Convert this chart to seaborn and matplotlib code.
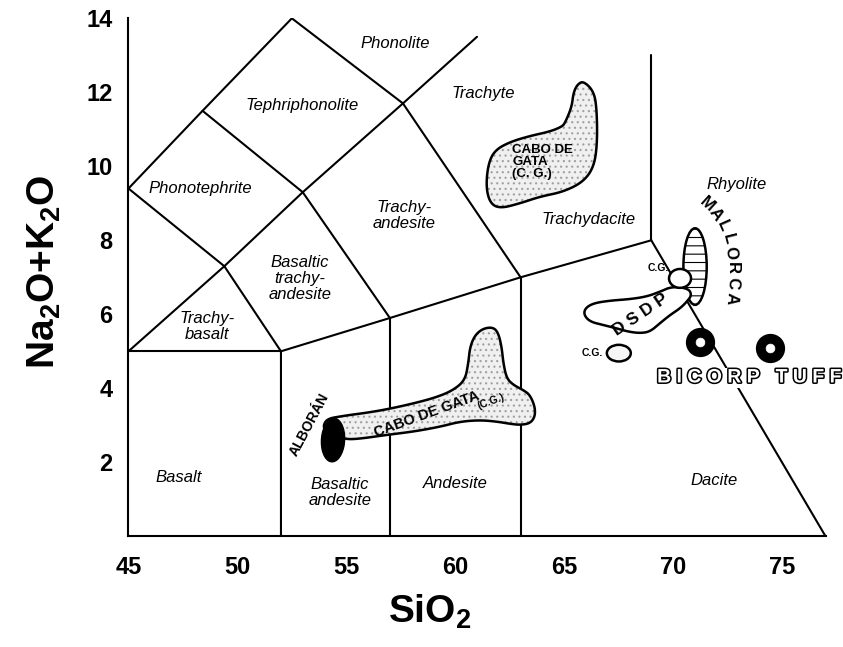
import numpy as np
import pandas as pd
import matplotlib
matplotlib.use("Agg")
import matplotlib.pyplot as plt
import matplotlib.patheffects as pe
from matplotlib.patches import Polygon, Ellipse
import seaborn as sns

# TAS field boundaries, (SiO2, Na2O+K2O)
base_line = [(52, 0), (52, 5), (57, 5.9), (63, 7), (69, 8)]
basalt_top = [(45, 5), (52, 5)]
andesite_left = [(57, 0), (57, 5.9)]
dacite_left = [(63, 0), (63, 7)]
rhyolite_dacite = [(69, 8), (77, 0)]
rhyolite_trachyte = [(69, 8), (69, 13)]
trachybasalt_top = [(45, 5), (49.4, 7.3), (52, 5)]
alkali_line = [(49.4, 7.3), (53, 9.3), (57.6, 11.7), (61, 13.5)]
bta_right = [(53, 9.3), (57, 5.9)]
ta_right = [(57.6, 11.7), (63, 7)]
phonotephrite_low = [(45, 9.4), (49.4, 7.3)]
upper_line = [(45, 9.4), (48.4, 11.5), (52.5, 14), (57.6, 11.7)]
tephri_low = [(48.4, 11.5), (53, 9.3)]

field_names = ["Phonolite", "Tephriphonolite", "Trachyte", "Phonotephrite",
               "Trachy-\nandesite", "Trachydacite", "Rhyolite",
               "Basaltic\ntrachy-\nandesite", "Trachy-\nbasalt", "Basalt",
               "Basaltic\nandesite", "Andesite", "Dacite"]

# sample fields (outlines)
cabo_upper = [(65.88, 12.31), (66.37, 12.02), (66.50, 11.52), (66.52, 10.62),
              (66.37, 9.99), (65.88, 9.58), (64.96, 9.31), (63.89, 9.18),
              (62.98, 9.0), (62.06, 8.86), (61.60, 9.0), (61.41, 9.45),
              (61.52, 10.08), (61.83, 10.44), (62.52, 10.66), (63.43, 10.82),
              (64.35, 10.94), (64.89, 11.07), (65.04, 11.17), (65.35, 11.61),
              (65.42, 11.97), (65.59, 12.20)]
cabo_lower = [(53.94, 2.92), (54.02, 3.10), (54.25, 3.19), (54.63, 3.23),
              (55.17, 3.28), (55.94, 3.34), (56.85, 3.43), (58.08, 3.59),
              (59.15, 3.76), (59.91, 3.95), (60.45, 4.22), (60.60, 4.68),
              (60.68, 5.12), (60.91, 5.44), (61.29, 5.62), (61.75, 5.65),
              (61.98, 5.49), (62.13, 5.12), (62.21, 4.68), (62.36, 4.27),
              (62.67, 4.09), (63.13, 3.95), (63.43, 3.82), (63.66, 3.50),
              (63.66, 3.23), (63.43, 3.05), (62.97, 3.01), (62.52, 3.04),
              (61.91, 3.10), (61.14, 3.14), (60.22, 3.10), (59.30, 2.96),
              (58.08, 2.83), (56.85, 2.74), (55.78, 2.65), (55.17, 2.62),
              (54.86, 2.65), (54.3, 2.7)]
dsdp = [(69.94, 6.75), (69.40, 6.61), (68.79, 6.48), (68.03, 6.41),
        (67.11, 6.37), (66.34, 6.30), (65.96, 6.16), (65.91, 5.98),
        (66.19, 5.80), (66.80, 5.71), (67.41, 5.62), (67.95, 5.53),
        (68.48, 5.49), (68.94, 5.53), (69.40, 5.76), (69.86, 5.98),
        (70.32, 6.16), (70.63, 6.34), (70.86, 6.52), (70.70, 6.70)]
alboran = (54.39, 2.60)
mallorca = (71.01, 7.29)
cg_upper = (70.32, 6.97)
cg_lower = (67.51, 4.95)
bicorp_sio2 = [71.24, 74.43]
bicorp_alk = [5.25, 5.09]

xticks = [45, 50, 55, 60, 65, 70, 75]
yticks = [2, 4, 6, 8, 10, 12, 14]


def smooth(pts, n=4):
    p = np.asarray(pts, dtype=float)
    for _ in range(n):
        nxt = np.roll(p, -1, axis=0)
        q = np.empty((2 * len(p), 2))
        q[0::2] = 0.75 * p + 0.25 * nxt
        q[1::2] = 0.25 * p + 0.75 * nxt
        p = q
    return p


def stipple_blob(ax, pts, z):
    xy = smooth(pts)
    ax.add_patch(Polygon(xy, closed=True, facecolor="#f0f0f0", edgecolor="#a0a0a0",
                         hatch="...", lw=0, zorder=z))
    ax.add_patch(Polygon(xy, closed=True, fill=False, edgecolor="black", lw=1.8, zorder=z + 0.1))


sns.set_theme(style="white")
plt.rcParams["font.family"] = ["Liberation Sans", "DejaVu Sans"]
plt.rcParams["text.color"] = "black"
plt.rcParams["axes.labelcolor"] = "black"
plt.rcParams["mathtext.fontset"] = "custom"
plt.rcParams["mathtext.rm"] = "Liberation Sans"
plt.rcParams["mathtext.bf"] = "Liberation Sans:bold"
plt.rcParams["hatch.linewidth"] = 0.8

fig = plt.figure(figsize=(8.43, 6.47), dpi=100)
ax = fig.add_axes([0.1524, 0.1711, 0.8269, 0.8006])

segments = [base_line, basalt_top, andesite_left, dacite_left, rhyolite_dacite,
            rhyolite_trachyte, trachybasalt_top, alkali_line, bta_right, ta_right,
            phonotephrite_low, upper_line, tephri_low]
rows = [(i, x, y) for i, seg in enumerate(segments) for x, y in seg]
df = pd.DataFrame(rows, columns=["seg", "sio2", "alk"])
sns.lineplot(data=df, x="sio2", y="alk", units="seg", estimator=None, sort=False,
             color="black", lw=1.5, legend=False, ax=ax, zorder=1)

# field names
label_pos = [(57.24, 13.32), (52.95, 11.63), (61.29, 11.97), (48.28, 9.41),
             (57.65, 8.68), (66.1, 8.55), (72.94, 9.52), (52.87, 6.97),
             (48.6, 5.67), (47.3, 1.6), (54.71, 1.18), (59.99, 1.43), (71.9, 1.5)]
for name, (x, y) in zip(field_names, label_pos):
    ax.text(x, y, name, style="italic", fontsize=12, ha="center", va="center",
            color="black", linespacing=1.1, zorder=2)

# Cabo de Gata fields
stipple_blob(ax, cabo_upper, 3)
stipple_blob(ax, cabo_lower, 3)
ax.text(62.62, 10.12, "CABO DE\nGATA\n(C. G.)", fontsize=9.5, fontweight="bold",
        ha="left", va="center", linespacing=1.0, zorder=6)
ax.text(58.7, 3.3, "CABO DE GATA", fontsize=10.5, fontweight="bold", rotation=20,
        ha="center", va="center", rotation_mode="anchor", zorder=6)
ax.text(61.63, 3.64, "(C.G.)", fontsize=7.5, fontweight="bold", rotation=20,
        ha="center", va="center", rotation_mode="anchor", zorder=6)

# Alboran
ax.add_patch(Ellipse(alboran, 1.05, 1.19, angle=-20, facecolor="black",
                     edgecolor="black", zorder=4))
ax.text(53.29, 3.03, "ALBORÁN", fontsize=10, fontweight="bold", rotation=62,
        ha="center", va="center", rotation_mode="anchor", zorder=6)

# Mallorca, DSDP and C.G.
ax.add_patch(Ellipse(mallorca, 1.07, 2.07, facecolor="white", edgecolor="black",
                     hatch="--", lw=1.8, zorder=3))
dsdp_xy = smooth(dsdp)
ax.add_patch(Polygon(dsdp_xy, closed=True, facecolor="white", edgecolor="black",
                     lw=1.8, zorder=4))
ax.text(68.5, 6.0, "D S D P", fontsize=12.5, fontweight="bold", rotation=34,
        ha="center", va="center", rotation_mode="anchor", zorder=6)
ax.add_patch(Ellipse(cg_upper, 1.01, 0.51, facecolor="white", edgecolor="black",
                     lw=1.8, zorder=5))
ax.add_patch(Ellipse(cg_lower, 1.10, 0.45, facecolor="#f6f6f6", edgecolor="black",
                     lw=1.8, zorder=5))
ax.text(69.31, 7.26, "C.G.", fontsize=7.5, fontweight="bold", ha="center", va="center", zorder=6)
ax.text(66.3, 4.95, "C.G.", fontsize=7.5, fontweight="bold", ha="center", va="center", zorder=6)

mallorca_letters = [("M", 71.56, 8.98, -42), ("A", 71.97, 8.71, -55),
                    ("L", 72.30, 8.39, -66), ("L", 72.53, 8.04, -76),
                    ("O", 72.66, 7.66, -84), ("R", 72.71, 7.25, -90),
                    ("C", 72.71, 6.85, -93), ("A", 72.66, 6.44, -96)]
for ch, x, y, rot in mallorca_letters:
    ax.text(x, y, ch, fontsize=12, fontweight="bold", rotation=rot,
            ha="center", va="center", rotation_mode="anchor", zorder=6)

# Bicorp tuff
sns.scatterplot(x=bicorp_sio2, y=bicorp_alk, s=380, color="black", edgecolor="black",
                ax=ax, zorder=7, legend=False)
sns.scatterplot(x=bicorp_sio2, y=bicorp_alk, s=40, color="white", edgecolor="white",
                ax=ax, zorder=8, legend=False)
ax.text(73.49, 4.28, "B I C O R P   T U F F", fontsize=14, fontweight="bold",
        color="white", ha="center", va="center", zorder=6,
        path_effects=[pe.withStroke(linewidth=2.2, foreground="black")],
        bbox=dict(facecolor="white", edgecolor="none", pad=1))

# axes
ax.set_xlim(45, 77)
ax.set_ylim(0, 14)
sns.despine(ax=ax)
for side in ["left", "bottom"]:
    ax.spines[side].set_color("black")
    ax.spines[side].set_linewidth(1.5)
ax.set_xticks(xticks)
ax.set_yticks(yticks)
ax.tick_params(direction="inout", length=7, width=1.3, colors="black", labelsize=17, pad=8)
for lab in ax.get_xticklabels() + ax.get_yticklabels():
    lab.set_fontweight("bold")
    lab.set_fontfamily(["Liberation Sans Narrow", "Liberation Sans", "DejaVu Sans"])
ax.tick_params(axis="x", pad=11)
ax.set_xlabel("")
ax.set_ylabel("")
ax.grid(False)

fig.text(0.51, 0.054, r"$\mathbf{SiO_2}$", fontsize=28, color="black", ha="center", va="center")
fig.text(0.053, 0.58, r"$\mathbf{Na_2O{+}K_2O}$", fontsize=28, color="black", rotation=90,
         ha="center", va="center")

fig.savefig("out.png", dpi=100, facecolor="white")
